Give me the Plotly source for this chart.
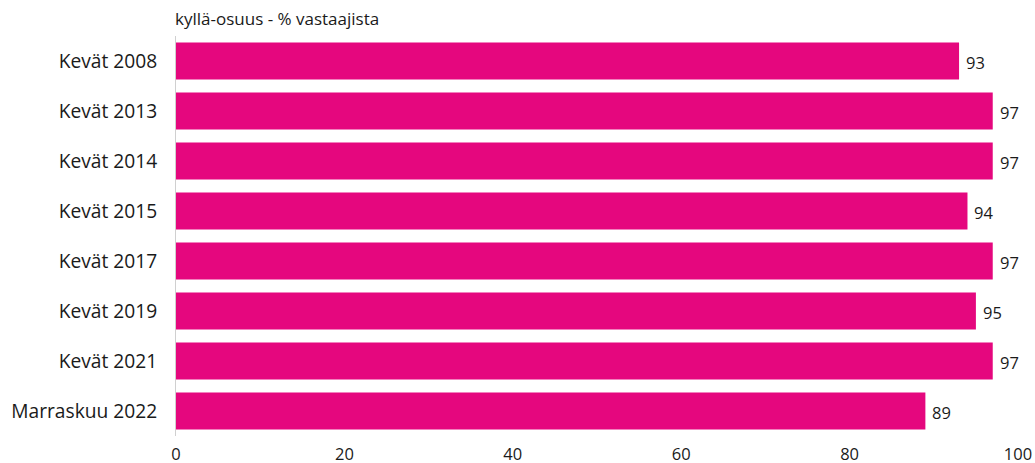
import plotly.graph_objects as go

categories = ["Kevät 2008", "Kevät 2013", "Kevät 2014", "Kevät 2015",
              "Kevät 2017", "Kevät 2019", "Kevät 2021", "Marraskuu 2022"]
values = [93, 97, 97, 94, 97, 95, 97, 89]
x_ticks = [0, 20, 40, 60, 80, 100]
title_text = "kyllä-osuus - % vastaajista"

FONT = "Open Sans"
TXT = "#1a1a1a"

fig = go.Figure(go.Bar(
    x=values, y=categories, orientation="h",
    marker=dict(color="#E5077E", line=dict(width=0)),
    width=0.74,
    hoverinfo="x+y",
))

for c, v in zip(categories, values):
    fig.add_annotation(x=v, y=c, xref="x", yref="y", text=str(v),
                       xanchor="left", yanchor="middle", xshift=5, yshift=-1,
                       showarrow=False, font=dict(size=16.5, color=TXT, family=FONT))

fig.update_layout(
    width=1035, height=463,
    margin=dict(l=176, r=17, t=36, b=27, autoexpand=False),
    plot_bgcolor="white", paper_bgcolor="white",
    showlegend=False,
    font=dict(family=FONT, color=TXT),
    xaxis=dict(range=[0, 100], tickvals=x_ticks, showgrid=False, zeroline=False,
               showline=False, ticks="", tickfont=dict(size=16.5), ticklabelstandoff=6,
               automargin=False),
    yaxis=dict(autorange="reversed", showgrid=False, zeroline=False,
               showline=True, linecolor="#d0d0d0", linewidth=1,
               ticks="", tickfont=dict(size=19.2), ticklabelstandoff=14,
               automargin=False),
    bargap=0.26,
)
fig.add_annotation(text=title_text, xref="paper", yref="paper", x=0, y=1,
                   xanchor="left", yanchor="bottom", yshift=4, xshift=-3,
                   showarrow=False, font=dict(size=17, color=TXT, family=FONT))

fig.write_html("out.html", config={"displayModeBar": False},
               post_script="document.body.style.margin='0';document.body.style.overflow='hidden';")
